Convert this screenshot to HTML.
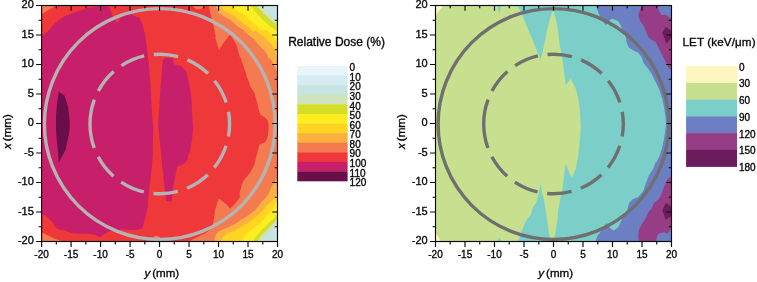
<!DOCTYPE html>
<html><head><meta charset="utf-8"><title>Relative Dose and LET maps</title>
<style>
html,body{margin:0;padding:0;background:#fff;}
svg{display:block;font-family:"Liberation Sans",sans-serif;}
text{fill:#0a0a0a;stroke:#0a0a0a;stroke-width:0.35px;}
.tb{font-size:10px;}
.tl{font-size:11px;}
.al{font-size:11.6px;}
.lg{font-size:10px;}
.lt{font-size:12px;}
</style></head><body>
<svg width="757" height="282" viewBox="0 0 757 282">
<rect width="757" height="282" fill="#fff"/>
<defs>
<clipPath id="c1"><rect x="41.60" y="5.50" width="235.90" height="236.00"/></clipPath>
<clipPath id="c2"><rect x="435.50" y="5.50" width="236.00" height="236.00"/></clipPath>
</defs>
<g clip-path="url(#c1)">
<rect x="41.6" y="5.5" width="235.9" height="236.0" fill="#ee383a"/>
<polygon points="41.3,36.2 47.2,32.0 53.0,25.3 58.8,20.3 63.0,17.0 71.3,13.7 81.3,10.3 88.0,7.8 93.0,7.0 101.3,6.2 108.0,5.7 108.8,5.7 111.3,12.0 113.8,19.5 117.7,22.8 119.7,18.7 123.0,14.5 128.0,11.2 130.3,14.0 134.5,16.0 139.5,17.7 142.3,23.7 145.0,35.3 147.3,49.0 148.0,58.0 148.8,63.3 150.2,81.9 151.5,103.2 152.8,125.0 153.2,129.9 152.7,144.8 152.8,155.0 152.0,165.0 150.3,180.0 148.7,193.3 147.8,202.0 147.8,206.3 146.2,214.7 143.7,223.0 142.0,228.8 135.3,230.0 127.0,229.7 122.0,229.3 116.3,230.5 109.7,231.3 104.7,233.8 100.5,237.2 94.7,234.7 88.0,233.8 78.0,233.8 71.3,233.0 64.7,230.5 59.7,229.7 56.3,228.0 53.0,223.0 48.8,218.8 45.5,215.5 41.3,214.7" fill="#c71f69" />
<polygon points="162.1,68.6 162.7,60.6 164.8,58.0 172.8,58.0 174.1,64.6 181.3,66.0 186.1,71.3 188.7,81.9 191.4,97.9 192.7,125.0 193.0,118.0 193.0,128.0 192.0,139.7 190.0,151.3 188.2,155.0 187.7,159.2 185.0,163.0 179.5,165.8 177.0,166.7 175.3,176.7 172.8,188.3 172.0,200.0 171.3,201.3 166.7,201.3 166.2,200.8 164.5,188.3 162.8,171.7 161.2,155.0 158.1,125.0 160.3,89.9" fill="#c71f69" />
<polygon points="58.8,91.7 64.7,95.8 68.0,106.7 69.7,120.0 69.7,132.0 69.3,130.0 68.8,135.0 65.5,150.0 58.8,162.5 57.7,150.0 56.3,135.0 56.0,130.0 56.0,132.0 56.0,115.0 57.2,101.7" fill="#680f49" />
<polygon points="41.3,5.7 55.5,5.7 48.0,10.3 41.3,14.5" fill="#f47b50" />
<polygon points="41.3,232.2 48.0,235.5 54.7,238.8 63.8,241.8 41.3,241.8" fill="#f47b50" />
<polygon points="192.8,5.7 196.2,9.5 201.2,8.7 206.2,5.7" fill="#f47b50" />
<polygon points="152.5,238.3 155.3,235.5 159.5,236.7 160.7,238.7" fill="#f47b50" />
<polygon points="208.7,5.7 210.8,15.3 213.3,25.3 215.8,37.0 215.2,37.4 219.0,49.9 223.9,42.4 229.5,35.0 231.4,36.2 234.5,41.2 237.0,46.1 238.8,53.6 240.3,58.5 240.7,57.0 241.9,62.0 243.8,67.0 245.6,71.9 246.9,76.9 248.8,81.8 250.3,86.5 252.5,90.0 254.3,92.4 255.6,97.4 257.4,103.6 258.7,109.8 260.5,114.8 263.6,116.6 266.1,118.5 267.6,120.5 268.6,124.2 268.6,129.1 268.0,135.3 266.7,139.7 264.9,142.2 261.8,143.4 259.3,145.0 258.1,149.7 256.8,154.7 255.6,159.6 254.3,164.6 252.2,169.3 250.0,172.7 246.9,176.4 243.8,180.2 241.9,183.9 240.7,188.9 239.4,192.6 240.0,197.0 237.0,201.3 233.9,205.1 230.1,208.8 226.4,204.4 223.3,202.0 219.0,198.4 217.1,203.2 215.2,209.4 213.3,223.0 210.0,229.7 205.8,233.0 197.0,237.2 188.7,241.5 277.5,241.5 277.5,5.5" fill="#f47b50" />
<polygon points="215.2,5.7 219.0,12.9 225.2,17.3 231.4,20.4 237.0,26.0 243.2,29.7 248.1,34.6 240.7,30.0 246.3,33.7 251.2,36.8 255.0,39.9 257.4,43.7 261.2,47.4 264.9,51.1 267.4,54.8 269.2,59.8 269.2,57.0 272.3,62.0 274.8,66.9 276.7,70.7 277.7,73.1 277.5,5.5" fill="#fbb040" />
<polygon points="220.8,5.7 223.9,10.4 228.9,13.5 233.9,15.4 238.8,19.8 243.8,24.1 248.8,27.2 253.7,32.2 255.0,30.0 258.7,33.1 263.6,36.2 267.4,40.5 271.1,43.7 273.6,48.6 276.1,53.6 277.7,58.5 277.5,5.5" fill="#ffd51f" />
<polygon points="232.6,5.7 235.1,9.2 238.8,11.7 243.8,14.2 247.5,17.9 251.2,21.6 256.2,25.3 259.9,29.7 266.1,30.0 269.9,33.1 273.6,37.4 276.1,41.8 277.7,44.9 277.5,5.5" fill="#fdee21" />
<polygon points="250.0,5.7 253.7,9.2 256.2,12.9 259.9,16.7 263.6,20.4 267.4,24.1 271.1,27.2 274.8,29.7 277.7,31.5 277.5,5.5" fill="#d5de27" />
<polygon points="256.8,5.7 259.9,9.2 263.6,13.5 267.4,16.7 271.1,20.4 274.8,22.9 277.7,24.1 277.5,5.5" fill="#cfe3bd" />
<polygon points="260.5,5.7 263.6,9.2 267.4,12.9 271.1,16.0 274.8,19.1 277.7,21.0 277.5,5.5" fill="#c6e4e2" />
<polygon points="277.5,178.3 274.8,181.4 272.3,185.1 270.5,188.9 269.2,192.6 267.2,195.7 264.8,198.8 263.2,200.1 260.4,203.2 258.2,206.3 255.4,210.0 252.6,212.0 247.0,216.3 241.3,219.4 237.6,222.5 232.6,225.0 227.7,227.5 222.7,229.4 219.0,231.2 216.5,233.7 214.6,238.0 214.0,241.5 277.5,241.5" fill="#fbb040" />
<polygon points="277.5,192.6 275.4,195.7 274.8,197.0 272.3,200.7 269.2,203.2 266.1,206.3 263.6,210.0 261.2,212.0 257.4,215.7 253.7,218.8 250.0,221.3 246.3,223.8 242.5,226.3 238.8,228.1 235.1,230.6 230.1,232.5 226.4,234.3 223.3,236.8 221.4,239.9 220.8,241.5 277.5,241.5" fill="#ffd51f" />
<polygon points="277.5,200.7 275.4,203.8 273.0,207.5 271.1,212.0 267.4,215.1 264.9,218.2 261.8,221.3 258.7,224.4 255.0,226.9 251.2,229.4 247.5,232.5 245.0,235.6 243.2,238.7 241.9,241.5 277.5,241.5" fill="#fdee21" />
<polygon points="277.5,213.1 276.7,214.5 273.6,218.2 270.5,221.3 267.4,224.4 264.3,227.5 261.2,230.6 258.1,233.7 255.6,236.8 253.7,239.9 253.1,241.5 277.5,241.5" fill="#d5de27" />
<polygon points="277.5,218.2 274.8,221.9 271.7,225.0 268.6,228.1 265.5,231.2 262.4,234.3 259.9,237.4 258.1,241.5 277.5,241.5" fill="#cfe3bd" />
<polygon points="277.5,222.5 274.8,226.3 271.1,230.0 268.0,233.7 264.9,237.4 263.0,241.5 277.5,241.5" fill="#c6e4e2" />
<circle cx="159.8" cy="124.0" r="115.4" fill="none" stroke="#b5b3b4" stroke-width="3.4"/>
<path d="M90.00 124.00A69.80 69.80 0 1 1 229.60 124.00A69.80 69.80 0 1 1 90.00 124.00" fill="none" stroke="#b5b3b4" stroke-width="3.4" stroke-dasharray="24.8 9.65"/>
</g>
<rect x="41.60" y="5.50" width="235.90" height="236.00" fill="none" stroke="#0a0a0a" stroke-width="1.15"/>
<path d="M41.60 241.50v5.50M41.60 241.50h-5.50M56.34 241.50v3.00M41.60 226.75h-3.00M56.34 5.50v2.80M277.50 226.75h-2.80M71.09 241.50v5.50M41.60 212.00h-5.50M71.09 5.50v5.30M277.50 212.00h-5.30M85.83 241.50v3.00M41.60 197.25h-3.00M85.83 5.50v2.80M277.50 197.25h-2.80M100.58 241.50v5.50M41.60 182.50h-5.50M100.58 5.50v5.30M277.50 182.50h-5.30M115.32 241.50v3.00M41.60 167.75h-3.00M115.32 5.50v2.80M277.50 167.75h-2.80M130.06 241.50v5.50M41.60 153.00h-5.50M130.06 5.50v5.30M277.50 153.00h-5.30M144.81 241.50v3.00M41.60 138.25h-3.00M144.81 5.50v2.80M277.50 138.25h-2.80M159.55 241.50v5.50M41.60 123.50h-5.50M159.55 5.50v5.30M277.50 123.50h-5.30M174.29 241.50v3.00M41.60 108.75h-3.00M174.29 5.50v2.80M277.50 108.75h-2.80M189.04 241.50v5.50M41.60 94.00h-5.50M189.04 5.50v5.30M277.50 94.00h-5.30M203.78 241.50v3.00M41.60 79.25h-3.00M203.78 5.50v2.80M277.50 79.25h-2.80M218.53 241.50v5.50M41.60 64.50h-5.50M218.53 5.50v5.30M277.50 64.50h-5.30M233.27 241.50v3.00M41.60 49.75h-3.00M233.27 5.50v2.80M277.50 49.75h-2.80M248.01 241.50v5.50M41.60 35.00h-5.50M248.01 5.50v5.30M277.50 35.00h-5.30M262.76 241.50v3.00M41.60 20.25h-3.00M262.76 5.50v2.80M277.50 20.25h-2.80M277.50 241.50v5.50M41.60 5.50h-5.50" stroke="#0a0a0a" stroke-width="1.15" fill="none"/>
<text x="41.6" y="258.2" text-anchor="middle" class="tb">-20</text>
<text x="33.8" y="244.4" text-anchor="end" class="tl">-20</text>
<text x="71.1" y="258.2" text-anchor="middle" class="tb">-15</text>
<text x="33.8" y="214.9" text-anchor="end" class="tl">-15</text>
<text x="100.6" y="258.2" text-anchor="middle" class="tb">-10</text>
<text x="33.8" y="185.4" text-anchor="end" class="tl">-10</text>
<text x="130.1" y="258.2" text-anchor="middle" class="tb">-5</text>
<text x="33.8" y="155.9" text-anchor="end" class="tl">-5</text>
<text x="159.6" y="258.2" text-anchor="middle" class="tb">0</text>
<text x="33.8" y="126.4" text-anchor="end" class="tl">0</text>
<text x="189.0" y="258.2" text-anchor="middle" class="tb">5</text>
<text x="33.8" y="96.9" text-anchor="end" class="tl">5</text>
<text x="218.5" y="258.2" text-anchor="middle" class="tb">10</text>
<text x="33.8" y="67.4" text-anchor="end" class="tl">10</text>
<text x="248.0" y="258.2" text-anchor="middle" class="tb">15</text>
<text x="33.8" y="37.9" text-anchor="end" class="tl">15</text>
<text x="277.5" y="258.2" text-anchor="middle" class="tb">20</text>
<text x="33.8" y="8.4" text-anchor="end" class="tl">20</text>
<text x="161.8" y="276.8" text-anchor="middle" class="al"><tspan font-style="italic">y</tspan><tspan dx="-1.3"> (mm)</tspan></text>
<text transform="translate(10.7,131.5) rotate(-90)" text-anchor="middle" class="al"><tspan font-style="italic">x</tspan><tspan dx="-1.3"> (mm)</tspan></text>
<g clip-path="url(#c2)">
<rect x="435.5" y="5.5" width="236.0" height="236.0" fill="#c6e08f"/>
<polygon points="517.5,5.7 520.8,12.0 525.0,22.0 530.0,33.7 534.2,43.7 537.5,52.0 540.8,59.5 543.0,50.3 544.7,42.0 546.7,32.0 550.0,18.7 553.0,10.3 553.3,10.3 555.8,18.7 558.3,32.0 559.2,42.0 560.8,50.3 562.5,60.3 564.2,72.0 565.8,85.3 570.8,78.7 573.3,83.7 575.8,89.0 575.8,88.7 578.3,98.7 580.0,110.3 580.8,129.0 581.2,122.0 580.0,138.7 578.3,155.3 575.8,169.0 576.7,167.0 571.7,177.8 565.5,163.7 564.2,175.3 562.5,188.7 560.0,200.3 558.3,209.0 558.3,211.3 556.7,224.7 555.0,234.7 553.7,238.8 553.7,241.7 671.5,241.5 671.5,5.5" fill="#7ccfc8" />
<polygon points="540.8,183.7 538.3,195.3 535.8,203.7 533.3,206.3 530.8,214.7 526.7,219.7 524.2,224.7 521.7,231.3 519.2,238.0 517.5,241.7 553.7,241.7 553.7,238.8 550.0,238.0 549.2,234.7 547.5,223.0 545.8,211.3 543.7,198.0 542.5,195.3" fill="#7ccfc8" />
<polygon points="497.0,5.5 501.2,5.5 499.4,13.7" fill="#7ccfc8" />
<polygon points="497.5,241.3 501.2,241.3 499.4,237.6" fill="#7ccfc8" />
<polygon points="435.5,5.5 443.3,5.5 435.5,15.4" fill="#fdf6c0" />
<polygon points="435.5,232.3 440.9,241.5 435.5,241.5" fill="#fdf6c0" />
<polygon points="595.7,5.7 598.2,12.0 600.7,18.7 605.7,25.3 608.2,22.0 611.5,18.7 614.8,19.5 618.2,21.2 620.7,25.3 623.2,32.0 625.7,37.0 626.5,42.0 629.0,47.8 633.2,50.3 638.2,52.8 641.5,57.0 644.0,63.7 648.2,68.7 651.5,73.7 654.8,80.3 655.7,82.0 659.0,88.7 662.3,98.7 664.0,107.0 665.3,115.3 666.0,123.7 666.5,122.0 665.3,130.3 664.0,138.7 662.3,147.0 659.8,155.3 656.5,162.0 655.7,162.0 653.2,168.7 649.0,175.3 645.7,183.7 643.2,191.2 638.2,197.0 632.3,199.5 629.0,203.0 627.3,209.7 624.0,214.7 621.5,220.5 618.2,227.2 614.0,230.5 610.7,228.8 606.5,223.0 604.0,226.3 600.7,231.3 597.3,236.3 595.3,241.7 671.5,241.5 671.5,5.5" fill="#6c7fc2" />
<polygon points="641.5,5.7 638.2,15.3 639.8,20.3 643.2,25.3 645.7,30.3 648.2,37.0 652.3,40.3 655.7,42.0 659.0,48.7 662.3,55.3 665.7,62.0 668.2,67.0 671.2,70.3 671.2,18.7 669.0,17.0 665.7,14.5 661.5,15.3 659.0,10.3 656.5,5.7" fill="#963d86" />
<polygon points="671.2,176.2 667.3,179.5 664.0,187.0 661.5,193.7 659.0,198.7 654.0,203.0 651.5,208.8 648.2,212.2 645.7,218.0 641.5,224.7 639.0,229.7 638.2,236.3 639.0,241.7 655.7,241.7 657.3,235.5 659.8,233.0 664.0,232.2 667.3,233.8 669.8,230.5 671.2,228.8" fill="#963d86" />
<polygon points="662.3,32.8 665.7,27.0 669.0,29.0 671.2,31.2 671.2,37.8 666.5,43.7" fill="#6b1c5d" />
<polygon points="662.3,210.5 665.7,203.0 669.0,205.0 671.2,207.2 671.2,216.3 665.7,219.7" fill="#6b1c5d" />
<circle cx="553.5" cy="124.0" r="115.4" fill="none" stroke="#6f6f6f" stroke-width="3.4"/>
<path d="M483.70 124.00A69.80 69.80 0 1 1 623.30 124.00A69.80 69.80 0 1 1 483.70 124.00" fill="none" stroke="#6f6f6f" stroke-width="3.4" stroke-dasharray="24.8 9.65"/>
</g>
<rect x="435.50" y="5.50" width="236.00" height="236.00" fill="none" stroke="#0a0a0a" stroke-width="1.15"/>
<path d="M435.50 241.50v5.50M435.50 241.50h-5.50M450.25 241.50v3.00M435.50 226.75h-3.00M450.25 5.50v2.80M671.50 226.75h-2.80M465.00 241.50v5.50M435.50 212.00h-5.50M465.00 5.50v5.30M671.50 212.00h-5.30M479.75 241.50v3.00M435.50 197.25h-3.00M479.75 5.50v2.80M671.50 197.25h-2.80M494.50 241.50v5.50M435.50 182.50h-5.50M494.50 5.50v5.30M671.50 182.50h-5.30M509.25 241.50v3.00M435.50 167.75h-3.00M509.25 5.50v2.80M671.50 167.75h-2.80M524.00 241.50v5.50M435.50 153.00h-5.50M524.00 5.50v5.30M671.50 153.00h-5.30M538.75 241.50v3.00M435.50 138.25h-3.00M538.75 5.50v2.80M671.50 138.25h-2.80M553.50 241.50v5.50M435.50 123.50h-5.50M553.50 5.50v5.30M671.50 123.50h-5.30M568.25 241.50v3.00M435.50 108.75h-3.00M568.25 5.50v2.80M671.50 108.75h-2.80M583.00 241.50v5.50M435.50 94.00h-5.50M583.00 5.50v5.30M671.50 94.00h-5.30M597.75 241.50v3.00M435.50 79.25h-3.00M597.75 5.50v2.80M671.50 79.25h-2.80M612.50 241.50v5.50M435.50 64.50h-5.50M612.50 5.50v5.30M671.50 64.50h-5.30M627.25 241.50v3.00M435.50 49.75h-3.00M627.25 5.50v2.80M671.50 49.75h-2.80M642.00 241.50v5.50M435.50 35.00h-5.50M642.00 5.50v5.30M671.50 35.00h-5.30M656.75 241.50v3.00M435.50 20.25h-3.00M656.75 5.50v2.80M671.50 20.25h-2.80M671.50 241.50v5.50M435.50 5.50h-5.50" stroke="#0a0a0a" stroke-width="1.15" fill="none"/>
<text x="435.5" y="258.2" text-anchor="middle" class="tb">-20</text>
<text x="427.7" y="244.4" text-anchor="end" class="tl">-20</text>
<text x="465.0" y="258.2" text-anchor="middle" class="tb">-15</text>
<text x="427.7" y="214.9" text-anchor="end" class="tl">-15</text>
<text x="494.5" y="258.2" text-anchor="middle" class="tb">-10</text>
<text x="427.7" y="185.4" text-anchor="end" class="tl">-10</text>
<text x="524.0" y="258.2" text-anchor="middle" class="tb">-5</text>
<text x="427.7" y="155.9" text-anchor="end" class="tl">-5</text>
<text x="553.5" y="258.2" text-anchor="middle" class="tb">0</text>
<text x="427.7" y="126.4" text-anchor="end" class="tl">0</text>
<text x="583.0" y="258.2" text-anchor="middle" class="tb">5</text>
<text x="427.7" y="96.9" text-anchor="end" class="tl">5</text>
<text x="612.5" y="258.2" text-anchor="middle" class="tb">10</text>
<text x="427.7" y="67.4" text-anchor="end" class="tl">10</text>
<text x="642.0" y="258.2" text-anchor="middle" class="tb">15</text>
<text x="427.7" y="37.9" text-anchor="end" class="tl">15</text>
<text x="671.5" y="258.2" text-anchor="middle" class="tb">20</text>
<text x="427.7" y="8.4" text-anchor="end" class="tl">20</text>
<text x="555.7" y="276.8" text-anchor="middle" class="al"><tspan font-style="italic">y</tspan><tspan dx="-1.3"> (mm)</tspan></text>
<text transform="translate(404.6,131.5) rotate(-90)" text-anchor="middle" class="al"><tspan font-style="italic">x</tspan><tspan dx="-1.3"> (mm)</tspan></text>
<rect x="297.3" y="66.00" width="50.3" height="9.88" fill="#e9f4fb"/>
<rect x="297.3" y="75.58" width="50.3" height="9.88" fill="#d6ebf3"/>
<rect x="297.3" y="85.17" width="50.3" height="9.88" fill="#c6e4e2"/>
<rect x="297.3" y="94.75" width="50.3" height="9.88" fill="#cfe3bd"/>
<rect x="297.3" y="104.33" width="50.3" height="9.88" fill="#d5de27"/>
<rect x="297.3" y="113.92" width="50.3" height="9.88" fill="#fdee21"/>
<rect x="297.3" y="123.50" width="50.3" height="9.88" fill="#ffd51f"/>
<rect x="297.3" y="133.08" width="50.3" height="9.88" fill="#fbb040"/>
<rect x="297.3" y="142.67" width="50.3" height="9.88" fill="#f47b50"/>
<rect x="297.3" y="152.25" width="50.3" height="9.88" fill="#ee383a"/>
<rect x="297.3" y="161.83" width="50.3" height="9.88" fill="#c71f69"/>
<rect x="297.3" y="171.42" width="50.3" height="9.88" fill="#680f49"/>
<text x="349.6" y="71.20" class="lg">0</text>
<text x="349.6" y="80.78" class="lg">10</text>
<text x="349.6" y="90.37" class="lg">20</text>
<text x="349.6" y="99.95" class="lg">30</text>
<text x="349.6" y="109.53" class="lg">40</text>
<text x="349.6" y="119.12" class="lg">50</text>
<text x="349.6" y="128.70" class="lg">60</text>
<text x="349.6" y="138.28" class="lg">70</text>
<text x="349.6" y="147.87" class="lg">80</text>
<text x="349.6" y="157.45" class="lg">90</text>
<text x="349.6" y="167.03" class="lg">100</text>
<text x="349.6" y="176.62" class="lg">110</text>
<text x="349.6" y="186.20" class="lg">120</text>
<text x="288.2" y="46.2" class="lt">Relative Dose (%)</text>
<rect x="686.1" y="66.10" width="50.9" height="17.05" fill="#fdf6c0"/>
<rect x="686.1" y="82.85" width="50.9" height="17.05" fill="#c6e08f"/>
<rect x="686.1" y="99.60" width="50.9" height="17.05" fill="#7ccfc8"/>
<rect x="686.1" y="116.35" width="50.9" height="17.05" fill="#6c7fc2"/>
<rect x="686.1" y="133.10" width="50.9" height="17.05" fill="#963d86"/>
<rect x="686.1" y="149.85" width="50.9" height="17.05" fill="#6b1c5d"/>
<text x="739" y="70.60" class="lg">0</text>
<text x="739" y="87.35" class="lg">30</text>
<text x="739" y="104.10" class="lg">60</text>
<text x="739" y="120.85" class="lg">90</text>
<text x="739" y="137.60" class="lg">120</text>
<text x="739" y="154.35" class="lg">150</text>
<text x="739" y="171.10" class="lg">180</text>
<text x="682.4" y="46.2" class="lt" style="font-size:11.7px;letter-spacing:0.1px">LET (keV/μm)</text>
</svg>
</body></html>
